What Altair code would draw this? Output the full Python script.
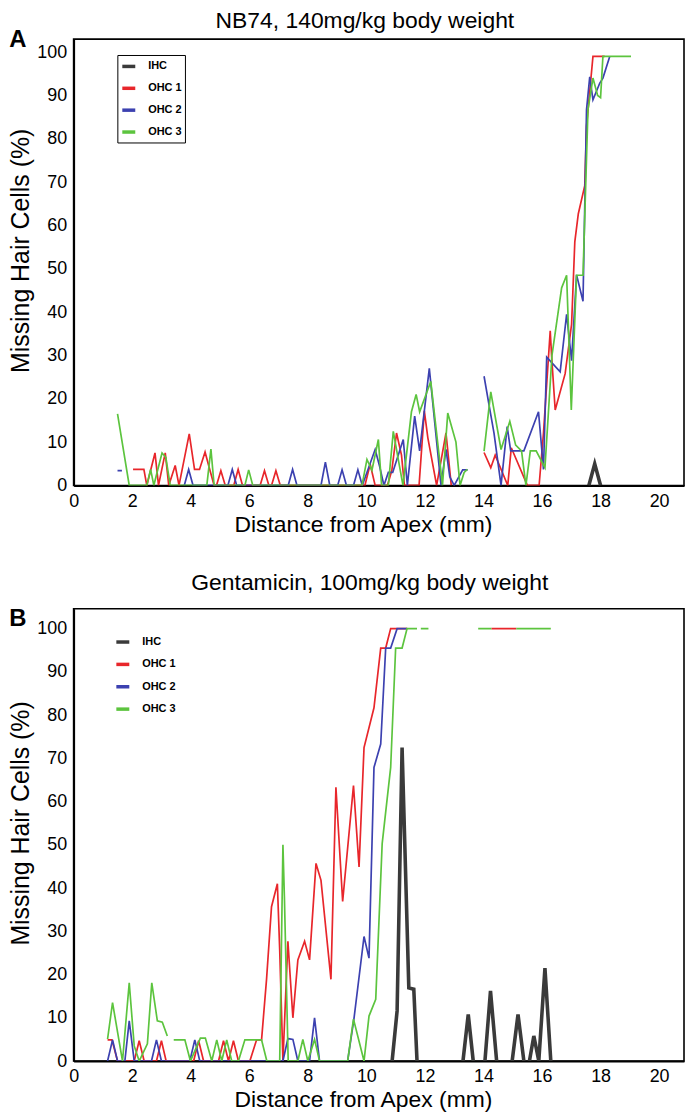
import altair as alt
import pandas as pd

SERIES = ["IHC", "OHC 1", "OHC 2", "OHC 3"]
COLORS = ["#3a3a3a", "#e8262b", "#3c41b0", "#5cc43e"]
WIDTHS = [3.6, 1.7, 1.7, 1.7]

X_TICKS = list(range(0, 21, 2))
Y_TICKS = list(range(0, 101, 10))

TITLE_A = "NB74, 140mg/kg body weight"
TITLE_B = "Gentamicin, 100mg/kg body weight"

# ---------------- Panel A (None = gap in the trace) ----------------
A_IHC_X = [17.6, 17.8, 18.0]
A_IHC_Y = [0, 5, 0]

A_OHC1_X = [2.03, 2.4, 2.5, 2.78, 2.9, 3.13, 3.25, 3.47, 3.6, 3.95, 4.13, 4.3, 4.49, 4.65, 4.8,
            4.88, 5.03, 5.18, 5.47, 5.62, 5.77, 6.37, 6.52, 6.67, 6.76, 6.91, 7.06, 9.95, 10.13,
            10.3, 10.72, 10.87, 11.03, 11.2, 11.3, 11.8, 11.98, 12.1, 12.4, 12.72, 12.9, None,
            14.02, 14.25, 14.4, 14.83, 14.95, 15.5, 15.9, 16.05, 16.28, 16.33, 16.45, 16.79,
            17.01, 17.12, 17.24, 17.46, 17.52, 17.74, 18.14]
A_OHC1_Y = [3.7, 3.7, 0, 7.5, 0, 7.5, 0, 4.6, 0, 11.9, 3.7, 3.7, 7.7, 3.7, 0,
            0, 3.4, 0, 0, 3.7, 0, 0, 3.4, 0, 0, 3.4, 0, 0, 4.9,
            0, 0, 3.5, 12.1, 7, 0, 0, 17.2, 11, 0, 12.1, 0, None,
            7.6, 4.1, 7, 0, 8.7, 0, 0, 12.1, 35.7, 29.6, 17.4, 25.8,
            37.2, 56.2, 62.7, 69.2, 82.9, 99, 99]

A_OHC2_X = [1.5, 1.65, None,
            3.78, 3.93, 4.08, 5.27, 5.42, 5.57, 7.33, 7.48, 7.63, 8.45, 8.6, 8.75, 9.02, 9.17,
            9.32, 9.56, 9.71, 9.86, 10.3, 10.45, 10.6, 10.75, 10.9, 11.26, 11.4, 11.65, 11.82,
            12.15, 12.55, 12.72, 12.85, 13.0, 13.29, 13.46, None,
            14.02, 14.2, 14.36, 14.6, 14.81, 14.93, 15.38, 15.88, 16.05, 16.16, 16.62, 16.84,
            17.01, 17.18, 17.4, 17.52, 17.63, 17.74, 17.97, 18.08, 18.31]
A_OHC2_Y = [3.4, 3.4, None,
            0, 3.7, 0, 0, 3.7, 0, 0, 3.7, 0, 0, 5.4, 0, 0, 3.6,
            0, 0, 3.6, 0, 8.3, 4.5, 0, 3, 3, 10.6, 0, 16, 8,
            27, 0, 8.3, 2, 0, 3.6, 3.6, None,
            25.2, 18.2, 12.1, 0, 13.6, 8, 8, 17, 3.7, 29.6, 26.2, 39.5,
            28.8, 48.6, 42.5, 86.7, 94.3, 89, 92.8, 94, 98.9]

A_OHC3_X = [1.5, 1.9, 2.5, 2.63, 2.74, 2.85, 3.02, 3.15, 3.3, 4.55, 4.69, 4.8, 5.85, 5.98, 6.12,
            9.85, 10.02, 10.19, 10.41, 10.52, 10.75, 10.92, 11.09, 11.25, 11.54, 11.7, 11.82,
            12.2, 12.35, 12.6, 12.78, 13.06, 13.2, 13.34, 13.45, None,
            14.02, 14.25, 14.6, 14.9, 15.1, 15.3, 15.45, 15.6, 15.8, 16.1, 16.34, 16.67, 16.84,
            17.0, 17.18, 17.4, 17.57, 17.74, 17.9, 18.0, 18.08, 19.04]
A_OHC3_Y = [16.5, 0, 0, 3.7, 0, 3, 7.5, 6.5, 0, 0, 8.4, 0, 0, 3.6, 0,
            0, 6, 3.5, 10.6, 0, 0, 12.5, 6, 0, 17, 21, 17,
            24, 15, 0, 16.7, 10, 0, 3, 3.7, None,
            7.9, 21.6, 8.3, 14.8, 9.3, 8, 0, 8, 8, 4.1, 30, 45.6, 48.5,
            17.4, 48.5, 48.5, 86.7, 94, 90, 89.5, 99, 99]

# ---------------- Panel B ----------------
B_IHC_X = [10.88, 11.05, 11.22, 11.45, 11.62, 11.73, None, 13.3, 13.48, 13.65, None,
           14.05, 14.24, 14.45, None, 14.98, 15.18, 15.38, None, 15.57, 15.72, 15.89, 16.1, 16.3]
B_IHC_Y = [0, 11.6, 72.5, 16.9, 16.6, 0, None, 0, 10.8, 0, None,
           0, 16.2, 0, None, 0, 10.8, 0, None, 0, 5.8, 0, 21.5, 0]

B_OHC1_X = [1.16, 1.31, 1.5, 2.07, 2.24, 2.41, 2.83, 3.0, 3.16, 4.1, 4.27, 4.44, 4.95, 5.12,
            5.29, 5.46, 5.63, 6.02, 6.25, 6.42, 6.59, 6.76, 6.96, 7.04, 7.15, 7.32, 7.49, 7.66,
            7.89, 8.06, 8.28, 8.45, 8.79, 8.96, 9.19, 9.56, 9.75, 9.92, 10.26, 10.49, 10.66,
            10.83, 11.4, None, 14.27, 15.12]
B_OHC1_Y = [4.9, 4.9, 0, 0, 4.7, 0, 0, 4.7, 0, 0, 4.7, 0, 0, 4.7,
            0, 4.7, 0, 0, 4.9, 4.9, 18.9, 35.7, 41, 25.7, 0, 27.7, 10, 23.4,
            27.7, 23.4, 45.7, 41.8, 18.9, 63.3, 36.9, 63.7, 44.9, 72.5, 81.7, 95.5, 95.5,
            100, 100, None, 100, 100]

B_OHC2_X = [1.16, 1.33, 1.5, 1.75, 1.9, 2.07, 2.66, 2.83, 3.0, 3.97, 4.14, 4.31, 7.15, 7.32,
            7.49, 7.66, 8.06, 8.23, 8.4, 9.36, 9.58, 9.92, 10.09, 10.26, 10.49, 10.66, 10.83,
            11.05, 11.39]
B_OHC2_Y = [0, 4.9, 0, 0, 9.3, 0, 0, 4.9, 0, 0, 4.9, 0, 0, 5.2,
            5, 0, 0, 10, 0, 0, 10, 28.8, 23.8, 67.9, 73.3, 95.5, 95.5,
            100, 100]

B_OHC3_X = [1.16, 1.33, 1.67, 1.9, 2.07, 2.24, 2.52, 2.67, 2.86, 3.03, 3.2, None,
            3.42, 3.8, 3.99, 4.33, 4.5, 4.72, 4.89, 5.06, 5.23, 5.4, 5.63, 5.85, 6.42, 6.6,
            7.04, 7.15, 7.2, 7.33, 7.66, 7.83, 8.0, 8.23, 8.4, 9.36, 9.56, 9.92, 10.09, 10.32,
            10.54, 10.83, 11.0, 11.22, 11.39, 11.73, None,
            11.86, 12.12, None, 13.82, 14.27, None, 15.12, 16.3]
B_OHC3_Y = [5.1, 13.5, 0, 18.1, 3.5, 0, 4, 18.1, 9.3, 9, 5.8, None,
            4.9, 4.9, 0, 5.3, 5.3, 0, 4.9, 0, 4.9, 0, 0, 4.9, 4.9, 0,
            0, 50, 38, 0, 0, 5, 0, 5, 0, 0, 9.7, 0, 10.4, 14.3,
            50.3, 67.9, 95.5, 95.5, 100, 100, None,
            100, 100, None, 100, 100, None, 100, 100]

PANEL_A = [(A_IHC_X, A_IHC_Y), (A_OHC1_X, A_OHC1_Y), (A_OHC2_X, A_OHC2_Y), (A_OHC3_X, A_OHC3_Y)]
PANEL_B = [(B_IHC_X, B_IHC_Y), (B_OHC1_X, B_OHC1_Y), (B_OHC2_X, B_OHC2_Y), (B_OHC3_X, B_OHC3_Y)]

FONT = "Liberation Sans"
PLOT_W = 614


def to_frame(name, xs, ys):
    rows, seg = [], 0
    for i, (x, y) in enumerate(zip(xs, ys)):
        if x is None:
            seg += 1
            continue
        rows.append({"series": name, "x": x, "y": y, "seg": seg, "i": i})
    return pd.DataFrame(rows)


def panel(traces, height, ymax, title, title_offset, title_dx, letter, letter_y, legend):
    xs = alt.X("x:Q", scale=alt.Scale(domain=[0, 20.85], nice=False, zero=False),
               axis=alt.Axis(values=X_TICKS, title="Distance from Apex (mm)", titleX=291))
    ys = alt.Y("y:Q", scale=alt.Scale(domain=[0, ymax], nice=False),
               axis=alt.Axis(values=Y_TICKS, title="Missing Hair Cells (%)",
                             titleY=height / 2 - 12))
    color = alt.Color("series:N", scale=alt.Scale(domain=SERIES, range=COLORS), legend=legend)
    layers = []
    for name, w, (xv, yv) in zip(SERIES, WIDTHS, traces):
        df = to_frame(name, xv, yv)
        layers.append(
            alt.Chart(df).mark_line(strokeWidth=w, clip=True).encode(
                x=xs, y=ys, color=color, detail="seg:N", order="i:Q")
        )
    lab = alt.Chart(pd.DataFrame({"t": [letter]})).mark_text(
        fontSize=24, fontWeight="bold", font=FONT, align="center", baseline="middle", color="black"
    ).encode(text="t:N", x=alt.value(-56), y=alt.value(letter_y))
    layers.append(lab)
    return alt.layer(*layers).properties(
        width=PLOT_W, height=height,
        title=alt.Title(title, fontSize=23, fontWeight="normal", font=FONT,
                        offset=title_offset, dx=title_dx, color="black"),
    )


legend_a = alt.Legend(orient="none", legendX=44, legendY=16, title=None, symbolType="stroke",
                      symbolSize=170, symbolStrokeWidth=3.5, labelFont=FONT, labelFontSize=11,
                      labelFontWeight="bold", labelOffset=11, rowPadding=6, padding=3,
                      strokeColor="black", fillColor="white", labelColor="black")
legend_b = alt.Legend(orient="none", legendX=35, legendY=19, title=None, symbolType="stroke",
                      symbolSize=170, symbolStrokeWidth=3.5, labelFont=FONT, labelFontSize=11,
                      labelFontWeight="bold", labelOffset=11, rowPadding=6.5, padding=6,
                      labelColor="black")

chart = alt.vconcat(
    panel(PANEL_A, 449, 103, TITLE_A, -5, -14, "A", 1, legend_a),
    panel(PANEL_B, 455, 104.6, TITLE_B, 12, -9, "B", 10, legend_b),
    spacing=34,
).resolve_scale(
    color="independent", y="independent", x="independent"
).resolve_legend(color="independent").properties(
    padding={"left": 0, "top": -2, "right": 0, "bottom": 0}
).configure_view(
    stroke="black", strokeWidth=1.6
).configure_axis(
    grid=False, ticks=False, domainColor="black", domainWidth=2, zindex=1,
    labelFont=FONT, labelFontSize=18, labelColor="black", labelFlush=False,
    titleFont=FONT, titleFontWeight="normal", titleColor="black",
).configure_axisX(
    labelPadding=7, titlePadding=3, titleFontSize=23
).configure_axisY(
    labelPadding=7, titlePadding=3, titleFontSize=25
)

chart.save("out.html", embed_options={"renderer": "svg", "actions": False})
